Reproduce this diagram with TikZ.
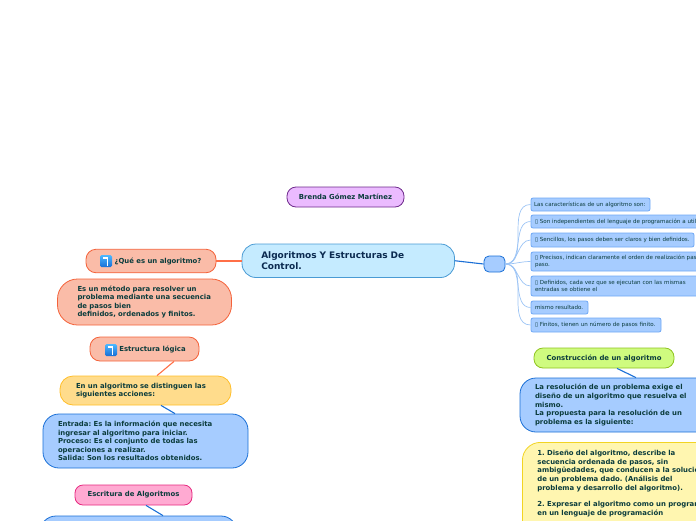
\documentclass[tikz,border=0pt]{standalone}
\usepackage{fontspec}
\setmainfont{DejaVu Sans}
\frenchspacing
\definecolor{inktext}{HTML}{0B3C3C}
\definecolor{inkmain}{HTML}{0B2A50}
\definecolor{linkblue}{HTML}{1A6FD6}
\definecolor{linkleaf}{HTML}{9CC4F5}
\definecolor{linkorange}{HTML}{FF6F47}
\definecolor{bluefill}{HTML}{A6CCFF}
\definecolor{leafedge}{HTML}{6FA8F5}
\definecolor{salmonfill}{HTML}{FABCA8}
\definecolor{salmonedge}{HTML}{F4623A}
\definecolor{amberfill}{HTML}{FFDC8C}
\definecolor{amberedge}{HTML}{FFBE28}
\definecolor{creamfill}{HTML}{FFF6B0}
\definecolor{creamedge}{HTML}{F2D423}
\definecolor{limefill}{HTML}{CFFB7F}
\definecolor{limeedge}{HTML}{8FC31F}
\definecolor{pinkfill}{HTML}{FFAAD2}
\definecolor{pinkedge}{HTML}{E6287F}
\definecolor{lilacfill}{HTML}{EBBBFF}
\definecolor{lilacedge}{HTML}{6E2A8C}
\definecolor{skyfill}{HTML}{C5EBFF}
\definecolor{skyedge}{HTML}{4A9BD4}
\tikzset{
  topic/.style={rounded corners=#1,align=left,inner sep=0pt,text=inktext,font=\bfseries\fontsize{6.9}{8.6}\selectfont,line width=.8pt},
  topic/.default=10pt,
  leaf/.style={draw=leafedge,rounded corners=2pt,fill=bluefill,align=left,inner sep=0pt,text=inktext,font=\fontsize{5.55}{7.5}\selectfont,line width=.8pt},
  iconbox/.style={rounded corners=1.5pt,top color=cyan!60!blue!70,bottom color=linkblue,minimum size=12pt,inner sep=0pt},
  iconmark/.style={draw=white,line width=1.4pt},
  hublink/.style={draw=linkblue,line width=1.1pt},
  leaflink/.style={draw=linkleaf,line width=.7pt}
}
\begin{document}
\begin{tikzpicture}[x=1pt,y=-1pt]
  \useasboundingbox (0,0) rectangle (696,520);
  \clip (0,0) rectangle (696,520);
  \node (author) at (345.5,197) [topic=9pt,draw=lilacedge,fill=lilacfill,minimum width=117pt,minimum height=20pt,align=center] {Brenda Gómez Martínez};
  \node (main) at (348.25,260.75) [topic=14pt,draw=skyedge,fill=skyfill,minimum width=212.5pt,minimum height=33.5pt,text width=174pt,text=inkmain,font=\bfseries\fontsize{9}{11}\selectfont] {Algoritmos Y Estructuras De\\Control.};
  \node (hub) at (494.5,264) [rounded corners=5pt,draw=linkblue,fill=bluefill,line width=.8pt,minimum width=21pt,minimum height=16pt,inner sep=0pt] {};
  \node (la) at (590.5,204.5) [leaf,minimum width=119pt,minimum height=13pt,text width=113pt] {Las características de un algoritmo son:};
  \node (lb) at (631,221.5) [leaf,minimum width=200pt,minimum height=13pt,text width=192pt] {▯ Son independientes del lenguaje de programación a utilizar.};
  \node (lc) at (612.5,240) [leaf,minimum width=163pt,minimum height=14pt,text width=155pt] {▯ Sencillos, los pasos deben ser claros y bien definidos.};
  \node (ld) at (631,261.5) [leaf,minimum width=200pt,minimum height=19pt,text width=192pt] {▯ Precisos, indican claramente el orden de realización paso a\\paso.};
  \node (le) at (631,286) [leaf,minimum width=200pt,minimum height=20pt,text width=192pt] {▯ Definidos, cada vez que se ejecutan con las mismas\\entradas se obtiene el};
  \node (lf) at (559.5,307.5) [leaf,minimum width=57pt,minimum height=13pt,text width=49pt] {mismo resultado.};
  \node (lg) at (596,325) [leaf,minimum width=130pt,minimum height=14pt,text width=122pt] {▯ Finitos, tienen un número de pasos finito.};
  \node (ask) at (151,261) [topic=10pt,draw=salmonedge,fill=salmonfill,minimum width=130pt,minimum height=23.5pt,align=center] {\hspace*{14pt}¿Qué es un algoritmo?};
  \node (askicon) at (106,261) [iconbox] {};
  \node (define) at (144.5,302) [topic=20pt,draw=salmonedge,fill=salmonfill,minimum width=174pt,minimum height=46pt,text width=134pt] {Es un método para resolver un\\problema mediante una secuencia\\de pasos bien\\definidos, ordenados y finitos.};
  \node (logic) at (144.5,349) [topic=10pt,draw=salmonedge,fill=salmonfill,minimum width=109pt,minimum height=24pt,align=center] {\hspace*{16pt}Estructura lógica};
  \node (logicicon) at (111,350) [iconbox] {};
  \node (acts) at (145.5,390.5) [topic=13pt,draw=amberedge,fill=amberfill,minimum width=171pt,minimum height=29pt,text width=139pt] {En un algoritmo se distinguen las\\siguientes acciones:};
  \node (steps) at (145.5,441) [topic=16pt,draw=linkblue,fill=bluefill,minimum width=205pt,minimum height=54pt,text width=175pt] {Entrada: Es la información que necesita\\ingresar al algoritmo para iniciar.\\Proceso: Es el conjunto de todas las\\operaciones a realizar.\\Salida: Son los resultados obtenidos.};
  \node (write) at (133.5,495) [topic=8pt,draw=pinkedge,fill=pinkfill,minimum width=117pt,minimum height=20pt,align=center] {Escritura de Algoritmos};
  \node (writebody) at (138.5,550) [topic=16pt,draw=linkblue,fill=bluefill,minimum width=197pt,minimum height=68pt] {};
  \node (build) at (604,358) [topic=9pt,draw=limeedge,fill=limefill,minimum width=140pt,minimum height=20pt,align=center] {Construcción de un algoritmo};
  \node (solve) at (640,405) [topic=16pt,draw=linkblue,fill=bluefill,minimum width=240pt,minimum height=54pt,text width=210pt] {La resolución de un problema exige el\\diseño de un algoritmo que resuelva el\\mismo.\\La propuesta para la resolución de un\\problema es la siguiente:};
  \node (plan) at (522,442) [topic=18pt,anchor=north west,draw=creamedge,fill=creamfill,inner xsep=15pt,inner ysep=8pt,text width=250pt] {1. Diseño del algoritmo, describe la\\secuencia ordenada de pasos, sin\\ambigüedades, que conducen a la solución\\de un problema dado. (Análisis del\\problema y desarrollo del algoritmo).\\[8.2pt]2. Expresar el algoritmo como un programa\\en un lenguaje de programación\rule[-60pt]{0pt}{60pt}};
  \draw[iconmark] ([xshift=-3pt,yshift=3pt]askicon.center) -- ([xshift=1.5pt,yshift=3pt]askicon.center) -- ([xshift=1.5pt,yshift=-4.5pt]askicon.center);
  \draw[iconmark] ([xshift=-3pt,yshift=3pt]logicicon.center) -- ([xshift=1.5pt,yshift=3pt]logicicon.center) -- ([xshift=1.5pt,yshift=-4.5pt]logicicon.center);
  \draw[draw=linkorange,line width=1.1pt] (main.west |- ask.east) -- (ask.east);
  \draw[hublink] (main.east) -- (hub.west);
  \foreach \to in {la,lb,lc,ld,le,lf,lg}
    \draw[leaflink] (hub.east) to[out=0,in=180] (\to.west);
  \draw[draw=linkorange,line width=1.1pt] ([xshift=29.5pt]logic.south) -- ([xshift=11.5pt]acts.north);
  \draw[hublink] ([xshift=15.5pt]acts.south) -- ([xshift=29.5pt]steps.north);
  \draw[hublink] ([xshift=12.5pt]write.south) -- ([xshift=24.5pt]writebody.north);
  \draw[hublink] ([xshift=13pt]build.south) -- ([xshift=-4pt]solve.north);
\end{tikzpicture}
\end{document}
